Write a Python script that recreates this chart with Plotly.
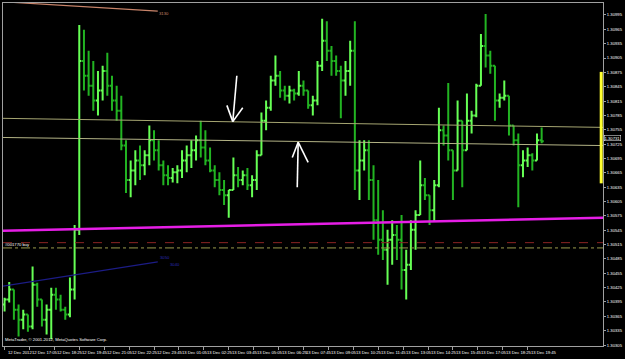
import plotly.graph_objects as go
import pandas as pd

# ---------------- data ----------------
bar_times = pd.date_range("2012-12-12 15:45", periods=116, freq="15min")

open_ = [1.30390, 1.30400, 1.30421, 1.30379, 1.30358, 1.30369, 1.30344, 1.30431, 1.30400, 1.30358,
         1.30379, 1.30410, 1.30400, 1.30379, 1.30369, 1.30421, 1.30546, 1.30899, 1.30868, 1.30847,
         1.30816, 1.30837, 1.30878, 1.30847, 1.30816, 1.30795, 1.30722, 1.30650, 1.30670, 1.30691,
         1.30681, 1.30702, 1.30733, 1.30712, 1.30681, 1.30660, 1.30654, 1.30666, 1.30670, 1.30691,
         1.30702, 1.30712, 1.30733, 1.30718, 1.30691, 1.30670, 1.30650, 1.30629, 1.30618, 1.30629,
         1.30660, 1.30650, 1.30660, 1.30639, 1.30650, 1.30702, 1.30774, 1.30801, 1.30858, 1.30868,
         1.30837, 1.30826, 1.30837, 1.30831, 1.30847, 1.30837, 1.30806, 1.30816, 1.30889, 1.30941,
         1.30920, 1.30899, 1.30878, 1.30858, 1.30878, 1.30920, 1.30670, 1.30691, 1.30712, 1.30650,
         1.30566, 1.30525, 1.30504, 1.30525, 1.30535, 1.30525, 1.30462, 1.30473, 1.30546, 1.30577,
         1.30639, 1.30618, 1.30587, 1.30639, 1.30754, 1.30743, 1.30712, 1.30670, 1.30774, 1.30712,
         1.30774, 1.30785, 1.30847, 1.30930, 1.30910, 1.30889, 1.30816, 1.30822, 1.30826, 1.30764,
         1.30733, 1.30681, 1.30691, 1.30702, 1.30691, 1.30733]

high = [1.30404, 1.30437, 1.30421, 1.30390, 1.30379, 1.30369, 1.30469, 1.30435, 1.30400, 1.30390,
        1.30425, 1.30425, 1.30410, 1.30385, 1.30446, 1.30556, 1.30974, 1.30964, 1.30920, 1.30899,
        1.30878, 1.30889, 1.30916, 1.30868, 1.30847, 1.30826, 1.30733, 1.30691, 1.30712, 1.30722,
        1.30712, 1.30764, 1.30754, 1.30733, 1.30691, 1.30681, 1.30675, 1.30681, 1.30712, 1.30722,
        1.30733, 1.30743, 1.30774, 1.30754, 1.30718, 1.30681, 1.30666, 1.30650, 1.30629, 1.30697,
        1.30677, 1.30670, 1.30675, 1.30660, 1.30712, 1.30791, 1.30816, 1.30868, 1.30910, 1.30878,
        1.30847, 1.30847, 1.30841, 1.30878, 1.30858, 1.30837, 1.30826, 1.30899, 1.30987, 1.30982,
        1.30930, 1.30910, 1.30889, 1.30899, 1.30941, 1.30982, 1.30733, 1.30733, 1.30733, 1.30681,
        1.30650, 1.30587, 1.30546, 1.30566, 1.30556, 1.30577, 1.30504, 1.30566, 1.30587, 1.30691,
        1.30654, 1.30618, 1.30650, 1.30801, 1.30764, 1.30853, 1.30712, 1.30816, 1.30774, 1.30831,
        1.30795, 1.30851, 1.30955, 1.30997, 1.30920, 1.30889, 1.30831, 1.30858, 1.30826, 1.30764,
        1.30747, 1.30712, 1.30718, 1.30706, 1.30747, 1.30760]

low = [1.30375, 1.30394, 1.30358, 1.30323, 1.30338, 1.30333, 1.30338, 1.30385, 1.30344, 1.30327,
       1.30317, 1.30379, 1.30375, 1.30358, 1.30363, 1.30400, 1.30535, 1.30837, 1.30826, 1.30795,
       1.30785, 1.30816, 1.30826, 1.30795, 1.30774, 1.30712, 1.30623, 1.30614, 1.30639, 1.30650,
       1.30660, 1.30681, 1.30691, 1.30670, 1.30639, 1.30639, 1.30645, 1.30643, 1.30654, 1.30666,
       1.30675, 1.30691, 1.30697, 1.30681, 1.30666, 1.30635, 1.30618, 1.30598, 1.30571, 1.30629,
       1.30635, 1.30639, 1.30629, 1.30614, 1.30629, 1.30702, 1.30754, 1.30795, 1.30847, 1.30822,
       1.30816, 1.30810, 1.30816, 1.30826, 1.30826, 1.30799, 1.30785, 1.30806, 1.30878, 1.30899,
       1.30868, 1.30868, 1.30779, 1.30826, 1.30847, 1.30629, 1.30608, 1.30670, 1.30608, 1.30525,
       1.30494, 1.30483, 1.30431, 1.30473, 1.30483, 1.30421, 1.30400, 1.30462, 1.30504, 1.30577,
       1.30608, 1.30556, 1.30562, 1.30635, 1.30722, 1.30691, 1.30608, 1.30670, 1.30635, 1.30712,
       1.30747, 1.30781, 1.30847, 1.30885, 1.30872, 1.30774, 1.30801, 1.30816, 1.30743, 1.30722,
       1.30593, 1.30656, 1.30677, 1.30670, 1.30691, 1.30727]

close = [1.30400, 1.30421, 1.30379, 1.30358, 1.30369, 1.30344, 1.30431, 1.30400, 1.30358, 1.30379,
         1.30410, 1.30400, 1.30379, 1.30369, 1.30421, 1.30546, 1.30899, 1.30868, 1.30847, 1.30816,
         1.30837, 1.30878, 1.30847, 1.30816, 1.30795, 1.30722, 1.30650, 1.30670, 1.30691, 1.30681,
         1.30702, 1.30733, 1.30712, 1.30681, 1.30660, 1.30654, 1.30666, 1.30670, 1.30691, 1.30702,
         1.30712, 1.30733, 1.30718, 1.30691, 1.30670, 1.30650, 1.30629, 1.30618, 1.30629, 1.30660,
         1.30650, 1.30660, 1.30639, 1.30650, 1.30702, 1.30774, 1.30801, 1.30858, 1.30868, 1.30837,
         1.30826, 1.30837, 1.30831, 1.30847, 1.30837, 1.30806, 1.30816, 1.30889, 1.30941, 1.30920,
         1.30899, 1.30878, 1.30858, 1.30878, 1.30920, 1.30670, 1.30691, 1.30712, 1.30650, 1.30566,
         1.30525, 1.30504, 1.30525, 1.30535, 1.30525, 1.30462, 1.30473, 1.30546, 1.30577, 1.30639,
         1.30618, 1.30587, 1.30639, 1.30754, 1.30743, 1.30712, 1.30670, 1.30774, 1.30712, 1.30774,
         1.30785, 1.30847, 1.30930, 1.30910, 1.30889, 1.30816, 1.30822, 1.30826, 1.30764, 1.30733,
         1.30681, 1.30691, 1.30702, 1.30691, 1.30733, 1.30731]

price_ticks = [1.30305, 1.30335, 1.30365, 1.30395, 1.30425, 1.30455, 1.30485, 1.30515,
               1.30545, 1.30575, 1.30605, 1.30635, 1.30665, 1.30695, 1.30725, 1.30755,
               1.30785, 1.30815, 1.30845, 1.30875, 1.30905, 1.30935, 1.30965, 1.30995]
price_tick_labels = ["%.5f" % v for v in price_ticks]

time_ticks = ["2012-12-12 15:45", "2012-12-12 17:05", "2012-12-12 18:25", "2012-12-12 19:45",
              "2012-12-12 21:05", "2012-12-12 22:25", "2012-12-12 23:45", "2012-12-13 01:05",
              "2012-12-13 02:25", "2012-12-13 03:45", "2012-12-13 05:05", "2012-12-13 06:25",
              "2012-12-13 07:45", "2012-12-13 09:05", "2012-12-13 10:25", "2012-12-13 11:45",
              "2012-12-13 13:05", "2012-12-13 14:25", "2012-12-13 15:45", "2012-12-13 17:05",
              "2012-12-13 18:25", "2012-12-13 19:45"]
time_tick_labels = ["12 Dec 2012", "12 Dec 17:05", "12 Dec 18:25", "12 Dec 19:45", "12 Dec 21:05",
                    "12 Dec 22:25", "12 Dec 23:45", "13 Dec 01:05", "13 Dec 02:25", "13 Dec 03:45",
                    "13 Dec 05:05", "13 Dec 06:25", "13 Dec 07:45", "13 Dec 09:05", "13 Dec 10:25",
                    "13 Dec 11:45", "13 Dec 13:05", "13 Dec 14:25", "13 Dec 15:45", "13 Dec 17:05",
                    "13 Dec 18:25", "13 Dec 19:45"]

x_range = ["2012-12-12 15:40", "2012-12-13 23:47"]
y_range = [1.30303, 1.31020]

# drawn objects (time, price)
orange_t = ["2012-12-12 15:30", "2012-12-12 23:57"]
orange_p = [1.31023, 1.31003]
khaki1_t = ["2012-12-12 15:30", "2012-12-13 23:47"]
khaki1_p = [1.30779, 1.30760]
khaki2_t = ["2012-12-12 15:30", "2012-12-13 23:47"]
khaki2_p = [1.30739, 1.30722]
magenta_t = ["2012-12-12 15:30", "2012-12-13 23:47"]
magenta_p = [1.30544, 1.30571]
navy_t = ["2012-12-12 15:30", "2012-12-12 23:57"]
navy_p = [1.30427, 1.30479]
stop_price = 1.30519
order_price = 1.30508
range_bar_p = [1.30643, 1.30876]
last_bid = 1.30731

down_arrow_t = ["2012-12-13 04:11", "2012-12-13 03:58", "2012-12-13 03:39", "2012-12-13 04:30"]
down_arrow_p = [1.30868, 1.30772, 1.30806, 1.30801]
up_arrow_t = ["2012-12-13 07:25", "2012-12-13 07:28", "2012-12-13 07:09", "2012-12-13 08:00"]
up_arrow_p = [1.30635, 1.30729, 1.30697, 1.30687]

FONT = "Liberation Sans"

fig = go.Figure()
fig.add_trace(go.Ohlc(
    x=bar_times, open=open_, high=high, low=low, close=close,
    increasing=dict(line=dict(color="#66ff55", width=2)),
    decreasing=dict(line=dict(color="#22b422", width=2)),
    tickwidth=0.45, showlegend=False, hoverinfo="skip"))

shapes = []
def seg(t, p, color, width, dash="solid"):
    shapes.append(dict(type="line", xref="x", yref="y", x0=t[0], x1=t[1], y0=p[0], y1=p[1],
                       line=dict(color=color, width=width, dash=dash)))

seg(orange_t, orange_p, "#c8846a", 1.2)
seg(khaki1_t, khaki1_p, "#a6a672", 1)
seg(khaki2_t, khaki2_p, "#b4b486", 1)
seg(magenta_t, magenta_p, "#e61ee6", 2.5)
seg(navy_t, navy_p, "#1c1c86", 1.2)
shapes.append(dict(type="line", xref="paper", yref="y", x0=0, x1=1, y0=stop_price, y1=stop_price,
                   line=dict(color="#8c2424", width=1, dash="dash")))
shapes.append(dict(type="line", xref="paper", yref="y", x0=0, x1=1, y0=order_price, y1=order_price,
                   line=dict(color="#9a9a4c", width=1, dash="dashdot")))
shapes.append(dict(type="line", xref="paper", yref="y", x0=0.997, x1=0.997,
                   y0=range_bar_p[0], y1=range_bar_p[1], line=dict(color="#ffff30", width=3)))
for tt, pp in ((down_arrow_t, down_arrow_p), (up_arrow_t, up_arrow_p)):
    seg([tt[0], tt[1]], [pp[0], pp[1]], "#ffffff", 1.6)
    seg([tt[2], tt[1]], [pp[2], pp[1]], "#ffffff", 1.6)
    seg([tt[3], tt[1]], [pp[3], pp[1]], "#ffffff", 1.6)

small = dict(family=FONT, size=4.2, color="#ffffff")
annotations = []
for t, lab in zip(time_ticks, time_tick_labels):
    annotations.append(dict(x=t, xref="x", y=0, yref="paper", text=lab, showarrow=False,
                            xanchor="left", yanchor="top", xshift=1, yshift=-2, font=small))
annotations += [
    dict(x=0, xref="paper", y=0, yref="paper", xanchor="left", yanchor="bottom", xshift=0, yshift=2,
         text="MetaTrader, © 2001-2012, MetaQuotes Software Corp.", showarrow=False, font=small),
    dict(x=0, xref="paper", y=order_price, yref="y", xanchor="left", yanchor="middle", yshift=3,
         text="#001770 buy", showarrow=False, font=small),
    dict(x="2012-12-13 00:16", xref="x", y=1.30999, yref="y", text="3130", showarrow=False,
         font=dict(family=FONT, size=4.2, color="#c8846a")),
    dict(x="2012-12-13 00:19", xref="x", y=1.30487, yref="y", text="3050", showarrow=False,
         font=dict(family=FONT, size=4.2, color="#2a2ab4")),
    dict(x="2012-12-13 00:53", xref="x", y=1.30473, yref="y", text="3040", showarrow=False,
         font=dict(family=FONT, size=4.2, color="#2a2ab4")),
    dict(x=1, xref="paper", y=last_bid, yref="y", xanchor="left", yanchor="middle", xshift=1,
         yshift=3, text="%.5f" % last_bid, showarrow=False, bgcolor="#000000",
         bordercolor="#ffffff", borderwidth=0.5, borderpad=0, font=small),
]

fig.update_layout(
    width=625, height=359,
    margin=dict(l=3, r=15, t=2, b=13),
    paper_bgcolor="#000000", plot_bgcolor="#000000",
    shapes=shapes, annotations=annotations,
    showlegend=False,
    xaxis=dict(type="date", range=x_range, rangeslider=dict(visible=False),
               showgrid=False, zeroline=False, showline=True, linecolor="#a0a0a0", linewidth=1,
               mirror=True, tickvals=time_ticks, showticklabels=False,
               ticks="outside", ticklen=3, tickcolor="#a0a0a0"),
    yaxis=dict(range=y_range, side="right", showgrid=False, zeroline=False, showline=True,
               linecolor="#a0a0a0", linewidth=1, mirror=True,
               tickvals=price_ticks, ticktext=price_tick_labels,
               ticks="outside", ticklen=2, tickcolor="#a0a0a0",
               tickfont=dict(family=FONT, size=4.2, color="#ffffff")),
)

fig.write_html("out.html")
